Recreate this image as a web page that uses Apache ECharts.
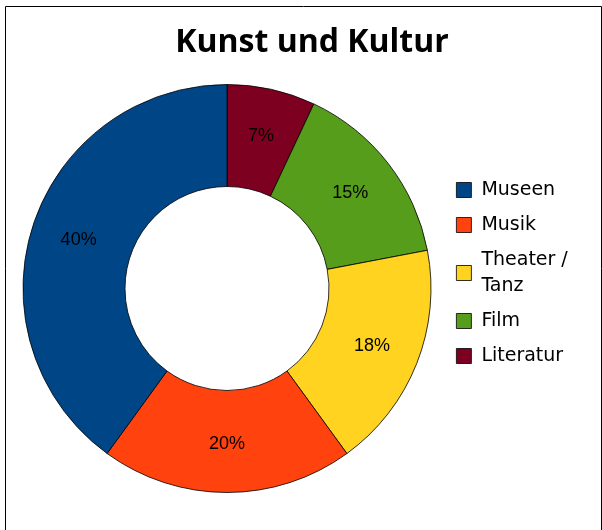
<!DOCTYPE html>
<html>
<head>
<meta charset="utf-8">
<script src="https://cdn.jsdelivr.net/npm/echarts@6/dist/echarts.min.js"></script>
<style>
  html, body { margin: 0; padding: 0; background: #fff; }
  #main { width: 602px; height: 530px; }
</style>
</head>
<body>
<div id="main"></div>
<script>
// Werte aus dem Bild (Prozent)
const categories = ['Literatur', 'Film', 'Theater / Tanz', 'Musik', 'Museen'];
const values = [7, 15, 18, 20, 40];
const colors = ['#7e0021', '#579d1c', '#ffd320', '#ff420e', '#004586'];
// Legendenreihenfolge wie im Original
const legendOrder = ['Museen', 'Musik', 'Theater / Tanz', 'Film', 'Literatur'];

const chart = echarts.init(document.getElementById('main'), null, { renderer: 'canvas' });

let pieData = [];
for (let i = 0; i < categories.length; i++) {
  pieData.push({ name: categories[i], value: values[i], itemStyle: { color: colors[i] } });
}

const option = {
  animation: false,
  title: {
    text: 'Kunst und Kultur',
    left: 307,
    top: 22,
    textAlign: 'center',
    textStyle: { fontFamily: 'Open Sans', fontWeight: 'bold', fontSize: 32, color: '#000' }
  },
  legend: {
    orient: 'vertical',
    left: 451,
    top: 172,
    data: legendOrder,
    itemWidth: 15,
    itemHeight: 15,
    itemGap: 9,
    icon: 'rect',
    itemStyle: { borderColor: '#000', borderWidth: 0.8 },
    formatter: function (name) {
      return name.replace(' / ', ' /\n');
    },
    textStyle: { fontFamily: 'DejaVu Sans', fontSize: 19, color: '#000', lineHeight: 26, padding: [0, 0, 0, 5] }
  },
  graphic: [{
    type: 'polyline',
    shape: { points: [[5.5, 530], [5.5, 6.5], [601.5, 6.5], [601.5, 530]] },
    style: { stroke: '#000', lineWidth: 1, fill: null },
    silent: true
  }],
  series: [{
    type: 'pie',
    center: [227, 288.5],
    radius: [102, 204],
    startAngle: 90,
    clockwise: true,
    avoidLabelOverlap: false,
    data: pieData,
    itemStyle: { borderColor: '#000', borderWidth: 0.8 },
    label: {
      show: true,
      position: 'inside',
      formatter: '{c}%',
      fontFamily: 'Liberation Sans',
      fontSize: 18,
      color: '#000'
    },
    labelLine: { show: false },
    emphasis: { disabled: true }
  }]
};

chart.setOption(option);
</script>
</body>
</html>
